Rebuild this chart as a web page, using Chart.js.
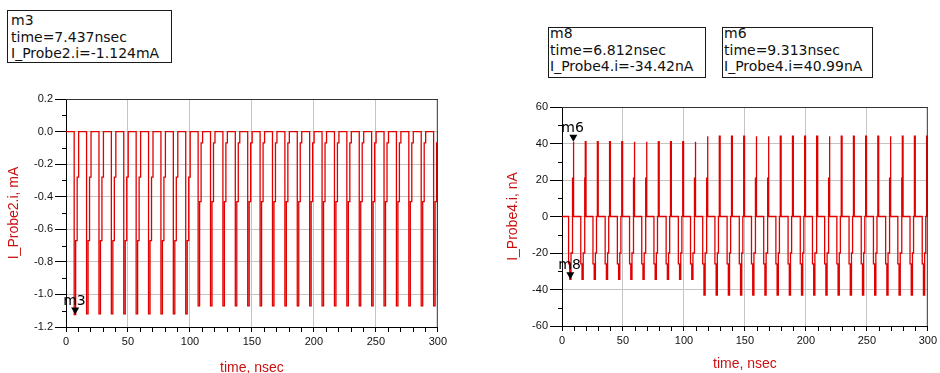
<!DOCTYPE html>
<html>
<head>
<meta charset="utf-8">
<title>I_Probe transient</title>
<script src="https://cdn.jsdelivr.net/npm/chart.js@4.4.1/dist/chart.umd.min.js"></script>
<style>
  html, body { margin: 0; padding: 0; background: #fff; overflow: hidden; }
  body { position: relative; width: 940px; height: 373px; }
  .mbox { position: absolute; box-sizing: border-box; border: 1px solid #1a1a1a;
          font-family: "DejaVu Sans", sans-serif; font-size: 14px; line-height: 16.5px;
          color: #111; white-space: nowrap; padding: 1px 0 0 3px; overflow: visible; }
  .mbox div { position: relative; }
  .plot { position: absolute; }
</style>
</head>
<body>
<div class="mbox" style="left:7px; top:10px; width:165px; height:53px;"><div id="box0"></div></div>
<div class="mbox" style="left:548px; top:27px; width:158px; height:51px; padding:0 0 0 1px;"><div id="box1" style="top:-3px"></div></div>
<div class="mbox" style="left:722px; top:27px; width:151px; height:51px; padding:0 0 0 1px;"><div id="box2" style="top:-3px"></div></div>
<div class="plot" style="left:0; top:90px; width:450px; height:295px;"><canvas id="leftChart"></canvas></div>
<div class="plot" style="left:470px; top:90px; width:470px; height:295px;"><canvas id="rightChart"></canvas></div>

<script>
// time axis, nsec
const timeMin = 0;
const timeMax = 300;

// I_Probe2.i, mA : one pulse every clock period
const leftPulseTime = [6.6, 16.6, 26.6, 36.6, 46.6, 56.6, 66.6, 76.6, 86.6, 96.6,
  106.6, 116.6, 126.6, 136.6, 146.6, 156.6, 166.6, 176.6, 186.6, 196.6,
  206.6, 216.6, 226.6, 236.6, 246.6, 256.6, 266.6, 276.6, 286.6, 296.6];
const leftPulseMin = [-1.124, -1.12, -1.12, -1.12, -1.12, -1.12, -1.12, -1.12, -1.12, -1.12,
  -1.07, -1.07, -1.07, -1.07, -1.07, -1.07, -1.07, -1.07, -1.07, -1.07,
  -1.07, -1.07, -1.07, -1.07, -1.07, -1.07, -1.07, -1.07, -1.07, -1.07];
const leftStepMid = [-0.67, -0.67, -0.67, -0.67, -0.67, -0.67, -0.67, -0.67, -0.67, -0.67,
  -0.43, -0.43, -0.43, -0.43, -0.43, -0.43, -0.43, -0.43, -0.43, -0.43,
  -0.43, -0.43, -0.43, -0.43, -0.43, -0.43, -0.43, -0.43, -0.43, -0.43];
const leftStepTop = [-0.28, -0.28, -0.28, -0.28, -0.28, -0.28, -0.28, -0.28, -0.28, -0.28,
  -0.07, -0.07, -0.07, -0.07, -0.07, -0.07, -0.07, -0.07, -0.07, -0.07,
  -0.07, -0.07, -0.07, -0.07, -0.07, -0.07, -0.07, -0.07, -0.07, -0.07];
const leftEndLevel = -1.0;

// I_Probe4.i, nA : negative pulse then positive spike each period
const rightNegTime = [5.4, 15.4, 25.4, 35.4, 45.4, 55.4, 65.4, 75.4, 85.4, 95.4,
  105.4, 115.4, 125.4, 135.4, 145.4, 155.4, 165.4, 175.4, 185.4, 195.4,
  205.4, 215.4, 225.4, 235.4, 245.4, 255.4, 265.4, 275.4, 285.4, 295.4];
const rightNegMin = [-34.42, -34.4, -34.4, -34.4, -34.4, -34.4, -34.4, -34.4, -34.4, -34.4,
  -34.4, -43, -43, -43, -43, -43, -43, -43, -43, -43,
  -43, -43, -43, -43, -43, -43, -43, -43, -43, -43];
const rightNegStep = -26;
const rightNegReturn = -20;
const rightPosTime = [8.8, 18.8, 28.8, 38.8, 48.8, 58.8, 68.8, 78.8, 88.8, 98.8,
  108.8, 118.8, 128.8, 138.8, 148.8, 158.8, 168.8, 178.8, 188.8, 198.8,
  208.8, 218.8, 228.8, 238.8, 248.8, 258.8, 268.8, 278.8, 288.8, 298.8];
const rightPosMax = [40.99, 41, 41, 41, 41, 41, 41, 41, 41, 41,
  41, 44, 44, 44, 44, 44, 44, 44, 44, 44,
  44, 44, 44, 44, 44, 44, 44, 44, 44, 44];
const rightPosStep = 21;

// markers
const markerNames = ["m3", "m8", "m6"];
const markerTimes = [7.437, 6.812, 9.313];
const markerValues = [-1.124, -34.42, 40.99];
const markerProbes = ["I_Probe2.i", "I_Probe4.i", "I_Probe4.i"];
const markerUnits = ["mA", "nA", "nA"];

const traceColor = "#e00000";
const gridColor = "#c4c4c4";
const titleColor = "#cc1010";

// marker readout boxes
for (let i = 0; i < markerNames.length; i++) {
  document.getElementById("box" + i).innerHTML =
    `${markerNames[i]}<br>time=${markerTimes[i].toFixed(3)}nsec<br>` +
    `${markerProbes[i]}=${markerValues[i]}${markerUnits[i]}`;
}

function leftTrace() {
  const pts = [{ x: timeMin, y: 0 }];
  for (let k = 0; k < leftPulseTime.length; k++) {
    const t = leftPulseTime[k];
    pts.push(
      { x: t, y: 0 }, { x: t, y: leftPulseMin[k] },
      { x: t + 1.2, y: leftPulseMin[k] }, { x: t + 1.2, y: leftStepMid[k] },
      { x: t + 2.4, y: leftStepMid[k] }, { x: t + 2.4, y: leftStepTop[k] },
      { x: t + 3.6, y: leftStepTop[k] }, { x: t + 3.6, y: 0 }
    );
  }
  pts.push({ x: timeMax, y: 0 }, { x: timeMax, y: leftEndLevel });
  return pts;
}

function rightTrace() {
  const pts = [{ x: timeMin, y: 0 }];
  for (let k = 0; k < rightNegTime.length; k++) {
    const n = rightNegTime[k];
    const u = rightPosTime[k];
    pts.push(
      { x: n, y: 0 }, { x: n, y: rightNegStep },
      { x: n + 1.0, y: rightNegStep }, { x: n + 1.0, y: rightNegMin[k] },
      { x: n + 2.0, y: rightNegMin[k] }, { x: n + 2.0, y: rightNegReturn },
      { x: n + 2.9, y: rightNegReturn }, { x: n + 2.9, y: 0 },
      { x: u, y: 0 }, { x: u, y: rightPosStep },
      { x: u + 0.3, y: rightPosStep }, { x: u + 0.3, y: rightPosMax[k] },
      { x: u + 0.9, y: rightPosMax[k] }, { x: u + 0.9, y: 0 }
    );
  }
  pts.push({ x: timeMax, y: 0 });
  return pts;
}

// top/right frame, short minor ticks on y, and marker triangles
const framePlugin = {
  id: "frame",
  afterDraw(chart, args, opts) {
    const { ctx, chartArea: a, scales } = chart;
    ctx.save();
    ctx.lineWidth = 1;
    ctx.strokeStyle = "#333";
    ctx.beginPath();
    ctx.moveTo(a.left, a.top + 0.5);
    ctx.lineTo(a.right, a.top + 0.5);
    ctx.moveTo(a.right - 0.5, a.top);
    ctx.lineTo(a.right - 0.5, a.bottom);
    ctx.stroke();

    ctx.strokeStyle = "#000";
    ctx.beginPath();
    scales.y.ticks.forEach((t) => {
      if (t.label !== "") return;
      const py = Math.round(scales.y.getPixelForValue(t.value)) + 0.5;
      ctx.moveTo(a.left - 4, py);
      ctx.lineTo(a.left, py);
    });
    ctx.stroke();

    ctx.fillStyle = "#000";
    ctx.font = '14px "DejaVu Sans"';
    ctx.textBaseline = "alphabetic";
    opts.markers.forEach((i) => {
      const px = scales.x.getPixelForValue(markerTimes[i]);
      const py = scales.y.getPixelForValue(markerValues[i]);
      ctx.beginPath();
      ctx.moveTo(px - 4, py - 7);
      ctx.lineTo(px + 4, py - 7);
      ctx.lineTo(px, py);
      ctx.closePath();
      ctx.fill();
      ctx.fillText(markerNames[i], px - 12, py - 10);
    });
    ctx.restore();
  },
};

function makeChart(id, opt) {
  const isMajorY = (v) => Math.round(v / opt.yStep) % 2 === 0;
  return new Chart(document.getElementById(id), {
    type: "line",
    data: {
      datasets: [{
        data: opt.data,
        borderColor: traceColor,
        borderWidth: 1.3,
        pointRadius: 0,
        tension: 0,
        fill: false,
      }],
    },
    options: {
      responsive: true,
      maintainAspectRatio: false,
      animation: false,
      events: [],
      layout: { padding: opt.padding },
      plugins: {
        legend: { display: false },
        tooltip: { enabled: false },
        frame: { markers: opt.markers },
      },
      scales: {
        x: {
          type: "linear",
          min: timeMin,
          max: timeMax,
          ticks: {
            stepSize: 10,
            autoSkip: false,
            maxRotation: 0,
            padding: 3,
            color: "#111",
            font: { family: "Liberation Sans", size: 11 },
            callback: (v) => (v % 50 === 0 ? String(v) : ""),
          },
          grid: {
            color: (c) => (c.tick && c.tick.value % 50 === 0 && c.tick.value > timeMin && c.tick.value < timeMax ? gridColor : "transparent"),
            tickColor: "#000",
            tickLength: 5,
          },
          border: { color: "#000" },
          title: {
            display: true,
            text: "time, nsec",
            color: titleColor,
            font: { family: "Liberation Sans", size: 14 },
            padding: { top: 0, bottom: opt.xTitlePad },
          },
          afterFit: (s) => { s.height = opt.xHeight; },
        },
        y: {
          min: opt.yMin,
          max: opt.yMax,
          ticks: {
            stepSize: opt.yStep,
            autoSkip: false,
            padding: 2,
            color: "#111",
            font: { family: "Liberation Sans", size: 11 },
            callback: (v) => (isMajorY(v) ? opt.yFormat(v) : ""),
          },
          grid: {
            color: (c) => (c.tick && isMajorY(c.tick.value) && c.tick.value > opt.yMin && c.tick.value < opt.yMax ? gridColor : "transparent"),
            tickColor: (c) => (c.tick && isMajorY(c.tick.value) ? "#000" : "transparent"),
            tickLength: opt.yTickLen,
          },
          border: { color: "#000" },
          title: {
            display: true,
            text: opt.yTitle,
            color: titleColor,
            font: { family: "Liberation Sans", size: 14 },
            padding: { top: opt.yTitlePad, bottom: 0 },
          },
          afterFit: (s) => { s.width = opt.yWidth; },
        },
      },
    },
    plugins: [framePlugin],
  });
}

makeChart("leftChart", {
  data: leftTrace(),
  yMin: -1.2, yMax: 0.2, yStep: 0.1,
  yFormat: (v) => v.toFixed(1),
  yTitle: "I_Probe2.i, mA",
  yWidth: 66, yTickLen: 11, yTitlePad: 5.6,
  xHeight: 58, xTitlePad: 8.6,
  padding: { left: 0, top: 9, right: 12, bottom: 0 },
  markers: [0],
});

makeChart("rightChart", {
  data: rightTrace(),
  yMin: -60, yMax: 60, yStep: 10,
  yFormat: (v) => String(Math.round(v)),
  yTitle: "I_Probe4.i, nA",
  yWidth: 92, yTickLen: 12, yTitlePad: 34.6,
  xHeight: 59, xTitlePad: 12.6,
  padding: { left: 0, top: 17, right: 8, bottom: 0 },
  markers: [1, 2],
});
</script>
</body>
</html>
